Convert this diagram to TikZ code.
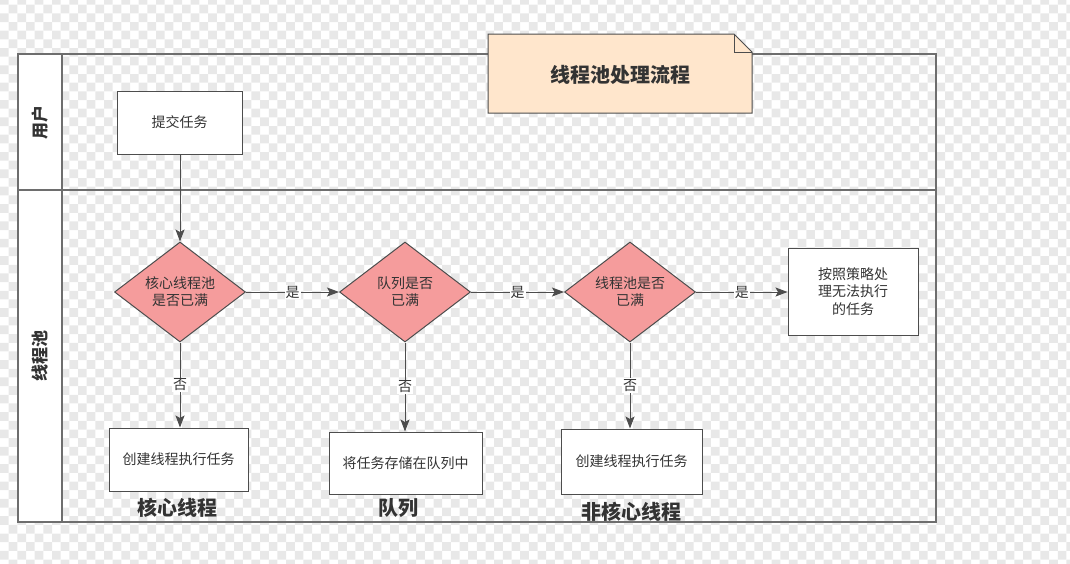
\documentclass[tikz,border=0pt]{standalone}
\usepackage{fontspec}
\setmainfont{Noto Sans CJK SC}
\usetikzlibrary{shapes.geometric,arrows.meta,positioning}
\definecolor{checkGray}{HTML}{E8E8E8}
\definecolor{poolGray}{HTML}{6E6E6E}
\definecolor{lineGray}{HTML}{4D4D4D}
\definecolor{textGray}{HTML}{333333}
\definecolor{decisionRed}{HTML}{F59C9C}
\definecolor{noteFill}{HTML}{FFE6CC}
\begin{document}
\begin{tikzpicture}[
  x=1pt, y=-1pt,
  task/.style={rectangle, draw=lineGray, line width=1pt, fill=white, inner sep=0pt,
    align=center, text=textGray, font=\fontsize{14}{17.5}\selectfont},
  check/.style={diamond, draw=lineGray, line width=1pt, fill=decisionRed, inner sep=0pt,
    minimum width=131pt, minimum height=100pt, align=center, text=textGray,
    font=\fontsize{14}{17}\selectfont},
  flow/.style={-{Stealth[length=12pt, width=9pt, inset=2.5pt]}, draw=lineGray, line width=1pt},
  yesno/.style={fill=white, inner sep=1pt, text=textGray, font=\fontsize{14}{16}\selectfont},
  lanelabel/.style={rotate=90, text=textGray, font=\bfseries\fontsize{17}{20}\selectfont},
  caption/.style={text=textGray, font=\bfseries\fontsize{20}{24}\selectfont},
  pool/.style={draw=poolGray, line width=1.2pt},
]
  \useasboundingbox (0,0) rectangle (1070,563);
  % transparent background pattern
  \foreach \r in {0,...,65} {
    \pgfmathsetmacro\shift{mod(\r,2)*8.67}
    \fill[checkGray] \foreach \c in {0,2,...,124} {
      (\c*8.67+\shift, \r*8.67-4) rectangle ++(8.67,8.67) };
  }

  % swimlanes
  \fill[white] (18,54) rectangle (62,522);
  \draw[pool] (18,54) rectangle (936,522);
  \draw[pool] (62,54) -- (62,522);
  \draw[pool] (18,190) -- (936,190);
  \node[lanelabel] (userlane) at (40,122) {用户};
  \node[lanelabel] (poollane) at (40,356) {线程池};

  % title note
  \draw[draw=lineGray, line width=1pt, fill=noteFill]
    (488,34) -- (734,34) -- (752,52) -- (752,113) -- (488,113) -- cycle;
  \draw[draw=lineGray, line width=1pt] (734,34) -- (734,52) -- (752,52);
  \node[text=textGray, font=\bfseries\fontsize{20}{24}\selectfont] (title) at (620,75) {线程池处理流程};

  % nodes
  \node[task, minimum width=125pt, minimum height=63pt] (submit) at (179.5,122.5) {提交任务};
  \node[check] (corefull) at (180,292) {核心线程池\\是否已满};
  \node[check] (queuefull) at (405,292) {队列是否\\已满};
  \node[check] (poolfull) at (630,292) {线程池是否\\已满};
  \node[task, minimum width=130pt, minimum height=87pt] (reject) at (853,291.5) {按照策略处\\理无法执行\\的任务};
  \node[task, minimum width=139pt, minimum height=63pt] (corerun) at (178.5,459.5) {创建线程执行任务};
  \node[task, minimum width=153pt, minimum height=62pt] (enqueue) at (405.5,463) {将任务存储在队列中};
  \node[task, minimum width=141pt, minimum height=65pt] (extrarun) at (631.5,461.5) {创建线程执行任务};

  % captions
  \node[caption] (corecap) at (177,508) {核心线程};
  \node[caption] (queuecap) at (398,508) {队列};
  \node[caption] (extracap) at (631,512) {非核心线程};

  % connectors
  \draw[flow] (submit.south -| corefull) -- (corefull.north);
  \draw[flow] (corefull.east) -- node[yesno] {是} (queuefull.west);
  \draw[flow] (queuefull.east) -- node[yesno] {是} (poolfull.west);
  \draw[flow] (poolfull.east) -- node[yesno] {是} (reject.west |- poolfull);
  \draw[flow] (corefull.south) -- node[yesno] {否} (corefull.south |- corerun.north);
  \draw[flow] (queuefull.south) -- node[yesno] {否} (queuefull.south |- enqueue.north);
  \draw[flow] (poolfull.south) -- node[yesno] {否} (poolfull.south |- extrarun.north);
\end{tikzpicture}
\end{document}
